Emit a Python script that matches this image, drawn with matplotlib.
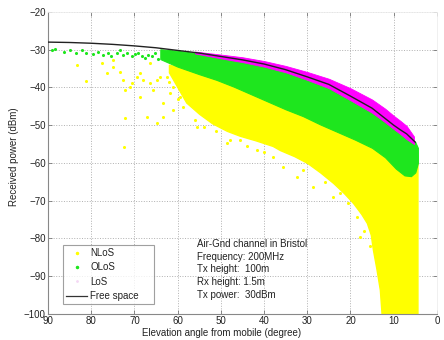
import matplotlib
matplotlib.use("Agg")
import matplotlib.pyplot as plt
from matplotlib.lines import Line2D

plt.rcParams['font.family'] = ['Liberation Sans', 'DejaVu Sans']

# Free-space received power vs elevation angle
fs_angle = [90, 85, 80, 75, 70, 65, 60, 55, 50, 45, 40, 35, 30, 25, 20, 15, 12, 10, 8.5, 7, 5]
fs_power = [-28.0, -28.1, -28.3, -28.6, -29.0, -29.5, -30.2, -30.9, -31.8, -32.7, -33.8, -35.3,
            -37.2, -39.2, -42.3, -45.5, -48.2, -50.0, -51.2, -52.3, -54.5]

# LoS cloud: upper/lower extent
los_angle = [56, 50, 45, 40, 35, 30, 25, 20, 15, 12, 10, 8.5, 7, 5.3]
los_high = [-30.5, -31.3, -32.0, -33.0, -34.3, -35.9, -37.7, -40.2, -43.2, -45.6, -47.5, -48.8, -50.2, -53.0]
los_low = [-31.0, -32.3, -33.3, -34.5, -36.0, -38.0, -40.2, -43.4, -46.7, -49.2, -51.0, -52.3, -53.7, -55.0]

# OLoS dense cloud: upper/lower extent
olos_angle = [64, 60, 55, 51, 47, 43, 39, 35, 31, 27, 23, 19, 15, 12, 9.5, 7.5, 6, 5, 4.4]
olos_high = [-29.9, -30.3, -31.0, -31.8, -32.6, -33.5, -34.6, -35.8, -37.2, -38.9, -41.0, -43.6,
             -46.0, -48.2, -50.6, -52.2, -53.5, -54.5, -56.0]
olos_low = [-32.5, -34.5, -36.5, -38.0, -39.8, -41.8, -43.8, -45.8, -47.6, -49.8, -51.8, -53.8,
            -56.0, -58.5, -61.5, -63.3, -63.5, -62.5, -60.0]

# OLoS sparse points at high elevation
olos_pts_angle = [89.1, 88.4, 86.4, 84.9, 83.4, 82.2, 81.1, 79.5, 78.4, 77.2, 76.1, 75.3, 74.1, 73.3,
                  72.6, 71.8, 70.6, 69.9, 69.1, 68.3, 67.6, 66.8, 66.0, 65.2, 64.5, 63.7, 62.9, 62.2,
                  61.4, 60.6, 59.9]
olos_pts_power = [-30.1, -29.9, -30.5, -30.2, -30.9, -30.1, -30.8, -31.1, -30.5, -31.4, -30.9, -31.7, -30.8, -30.2,
                  -31.4, -30.9, -31.8, -31.1, -30.8, -31.7, -32.3, -31.3, -31.8, -30.9, -32.5, -31.7, -32.2, -31.1,
                  -32.7, -31.8, -31.5]

# NLoS dense cloud: upper/lower extent
nlos_angle = [62, 58, 55, 52, 48.6, 45.6, 42, 38, 36.3, 33, 30, 27, 24, 21.5, 19.4, 17.5, 16.2,
              15.3, 14.8, 14.0, 13.2, 12.8, 10, 7, 4.5]
nlos_high = [-34.0, -35.0, -36.0, -37.0, -38.5, -39.5, -41.0, -43.0, -44.0, -45.5, -47.0, -48.5,
             -50.0, -51.5, -52.5, -53.5, -54.0, -54.5, -55.0, -55.5, -56.0, -56.5, -58.0, -58.5, -58.0]
nlos_low = [-36.0, -44.0, -47.0, -49.5, -51.5, -52.8, -54.0, -55.5, -56.6, -58.2, -60.0, -62.5,
            -65.3, -68.0, -70.6, -73.5, -75.9, -79.0, -83.0, -88.0, -93.6, -100.0, -100.0, -100.0, -100.0]

# NLoS scattered points
nlos_pts_angle = [83.3, 81.2, 72.2, 72.4, 75.0, 73.3, 72.2, 70.6, 68.7, 68.0, 69.4,
                  77.5, 76.4, 75.0, 72.7, 71.0, 68.7, 66.4, 65.7, 64.8, 62.5, 61.0, 66.4,
                  67.0, 64.8, 63.4, 61.0, 59.5, 56.5, 53.2, 50.2, 48.6, 45.6, 43.3, 41.6,
                  37.9, 35.6, 32.4, 28.7, 24.0, 22.4, 18.5, 17.8,
                  64.0, 61.8, 63.4, 57.0, 58.8, 55.5, 52.5, 47.9, 47.2,
                  60.0, 58.0, 62.0, 56.0, 54.0, 51.0, 44.0, 40.0, 31.0, 26.0, 20.5, 16.8, 15.5]
nlos_pts_power = [-34.0, -38.2, -48.1, -55.8, -32.7, -35.9, -40.7, -38.8, -42.5, -38.0, -37.2,
                  -33.5, -36.2, -34.6, -38.0, -39.9, -36.2, -38.8, -40.7, -38.0, -37.2, -39.9, -33.5,
                  -47.8, -49.4, -44.1, -46.0, -42.5, -43.3, -46.0, -48.6, -54.7, -53.9, -53.1, -56.6,
                  -58.4, -61.0, -63.7, -66.4, -69.0, -68.0, -74.3, -79.6,
                  -37.2, -41.5, -47.8, -38.0, -45.2, -50.5, -42.5, -53.9, -50.5,
                  -43.0, -41.0, -38.5, -48.5, -50.5, -51.5, -55.5, -57.0, -62.0, -65.0, -70.5, -78.0, -82.0]

c_nlos = '#ffff00'
c_olos = '#1ee61e'
c_los = '#ff00ff'

fig = plt.figure(figsize=(4.44, 3.40), dpi=100)
ax = fig.add_axes([0.108, 0.0765, 0.876, 0.8885])

ax.fill_between(nlos_angle, nlos_low, nlos_high, color=c_nlos, lw=1.0, ec=c_nlos, zorder=2)
ax.scatter(nlos_pts_angle, nlos_pts_power, s=5, color=c_nlos, lw=0, zorder=2)
ax.fill_between(olos_angle, olos_low, olos_high, color=c_olos, lw=0.8, ec=c_olos, zorder=3)
ax.scatter(olos_pts_angle, olos_pts_power, s=5, color=c_olos, lw=0, zorder=3)
ax.fill_between(los_angle, los_low, los_high, color=c_los, lw=0.6, ec=c_los, zorder=4)
ax.plot(fs_angle, fs_power, color='#222222', lw=1.0, zorder=5)

ax.set_xlim(90, 0)
ax.set_ylim(-100, -20)
ax.set_xticks(range(90, -1, -10))
ax.set_yticks(range(-100, -19, 10))
ax.grid(True, linestyle=':', color='#b0b0b0', linewidth=0.7)
ax.set_axisbelow(True)

ax.tick_params(direction='in', length=3, width=0.6, colors='#777777', labelcolor='#222222',
               labelsize=7, top=True, right=True, pad=1.5)
for side in ['left', 'bottom']:
    ax.spines[side].set_color('#888888')
    ax.spines[side].set_linewidth(0.8)
for side in ['top', 'right']:
    ax.spines[side].set_color('#eeeeee')
    ax.spines[side].set_linewidth(0.6)

ax.set_xlabel('Elevation angle from mobile (degree)', fontsize=7, color='#222222')
ax.xaxis.set_label_coords(0.447, -0.047, transform=ax.transAxes)
ax.xaxis.label.set_va('top')
ax.set_ylabel('Received power (dBm)', fontsize=7, color='#222222')
ax.yaxis.set_label_coords(-0.075, 0.52)

handles = [
    Line2D([], [], ls='none', marker='.', ms=3, color=c_nlos),
    Line2D([], [], ls='none', marker='.', ms=3, color=c_olos),
    Line2D([], [], ls='none', marker='.', ms=2, color='#f4d8f4'),
    Line2D([], [], color='#333333', lw=0.9),
]
leg = ax.legend(handles, ['NLoS', 'OLoS', 'LoS', 'Free space'], loc='lower left',
                bbox_to_anchor=(0.0386, 0.033, 0.234, 0.195), mode='expand',
                fontsize=7, frameon=True, fancybox=False, borderpad=0.3,
                labelspacing=0.45, handlelength=2.2, handletextpad=0.3, borderaxespad=0)
leg.get_frame().set_edgecolor('#888888')
leg.get_frame().set_linewidth(0.8)
for t in leg.get_texts():
    t.set_color('#222222')

info = ['Air-Gnd channel in Bristol', 'Frequency: 200MHz', 'Tx height:  100m',
        'Rx height: 1.5m', 'Tx power:  30dBm']
for i, line in enumerate(info):
    ax.text(0.382, 0.232 - i * 0.0422, line, transform=ax.transAxes, fontsize=7,
            color='#222222', va='center', ha='left')

fig.savefig('out.png', dpi=100)
